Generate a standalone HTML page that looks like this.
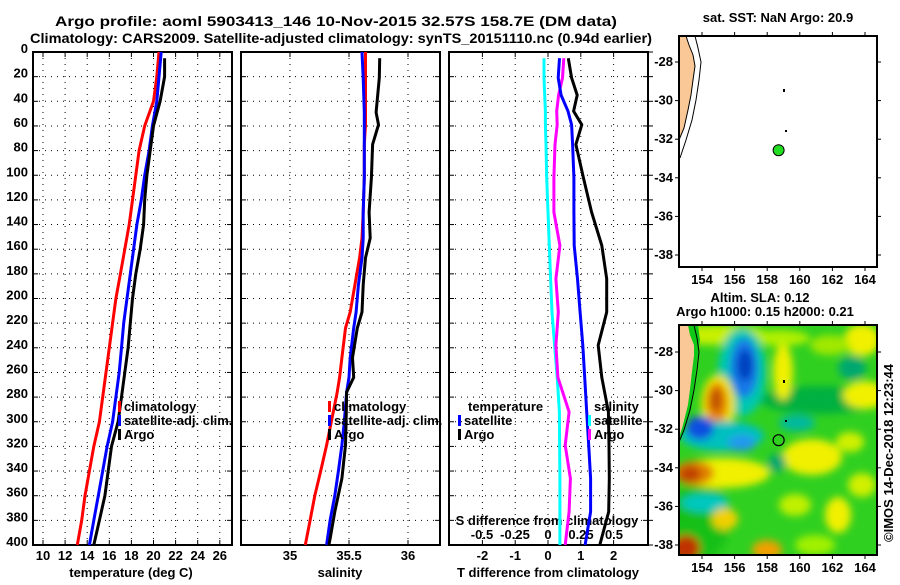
<!DOCTYPE html>
<html><head><meta charset="utf-8"><style>
body{margin:0;background:#fff;}
svg text{font-family:"Liberation Sans",Arial,sans-serif;font-weight:bold;fill:#000;}
</style></head><body>
<svg id="c" width="900" height="580" viewBox="0 0 900 580" xmlns="http://www.w3.org/2000/svg">
<defs>
<filter id="blur" x="-50%" y="-50%" width="200%" height="200%"><feGaussianBlur stdDeviation="4"/></filter>
<clipPath id="mapclip"><rect x="679" y="325" width="198" height="230"/></clipPath>
</defs>
<text x="55" y="26" font-size="14" textLength="562" lengthAdjust="spacingAndGlyphs">Argo profile: aoml 5903413_146 10-Nov-2015 32.57S 158.7E (DM data)</text>
<text x="30" y="43" font-size="14" textLength="622" lengthAdjust="spacingAndGlyphs">Climatology: CARS2009. Satellite-adjusted climatology: synTS_20151110.nc (0.94d earlier)</text>
<g id="g"></g>
</svg>
<script>
// ---- data ----
const tempDepth=[0,20,40,60,80,100,120,140,160,180,200,220,240,260,280,300,320,340,360,380,400];
const tempClim=[20.5,20.3,20.0,19.2,18.7,18.4,18.1,17.8,17.4,17.0,16.6,16.3,16.0,15.7,15.4,15.1,14.6,14.2,13.8,13.5,13.1];
const tempSat=[20.7,20.5,20.3,19.9,19.6,19.2,18.9,18.5,18.2,17.9,17.6,17.3,17.1,16.9,16.6,16.3,15.8,15.4,15.0,14.6,14.2];
const tempArgoDepth=[5,20,40,60,80,100,120,140,160,180,200,220,240,260,280,300,320,340,360,380,400];
const tempArgo=[21.0,21.0,20.6,20.0,19.7,19.4,19.2,19.1,18.8,18.4,18.1,17.9,17.7,17.4,17.1,16.8,16.2,15.9,15.6,15.1,14.6];
const salDepth=[0,21,49,59,75,102,130,151,167,189,211,224,248,264,276,300,319,340,360,380,400];
const salClim=[35.64,35.64,35.64,35.64,35.63,35.63,35.62,35.61,35.59,35.55,35.51,35.47,35.44,35.42,35.40,35.35,35.31,35.26,35.21,35.17,35.13];
const salSat=[35.61,35.62,35.63,35.63,35.63,35.63,35.62,35.62,35.61,35.58,35.56,35.54,35.51,35.50,35.48,35.46,35.44,35.41,35.38,35.34,35.31];
const salArgoDepth=[5,21,49,59,75,102,130,151,167,189,211,224,248,264,276,300,319,346,373,395,400];
const salArgo=[35.76,35.757,35.73,35.75,35.70,35.69,35.67,35.68,35.64,35.62,35.61,35.57,35.53,35.54,35.48,35.475,35.47,35.44,35.38,35.34,35.33];
const diffDepth=[5,21,35,48,59,75,102,130,157,184,211,238,264,292,319,346,373,400];
const dSsat=[-0.03,-0.03,-0.025,-0.02,-0.02,-0.015,-0.01,0.0,0.01,0.02,0.03,0.05,0.07,0.086,0.088,0.09,0.09,0.09];
const dSargo=[0.12,0.11,0.08,0.066,0.07,0.053,0.045,0.045,0.09,0.06,0.078,0.06,0.075,0.16,0.13,0.17,0.16,0.13];
const dTsat=[0.35,0.31,0.40,0.61,0.72,0.75,0.79,0.79,0.80,0.9,0.98,1.06,1.12,1.18,1.24,1.30,1.30,1.13];
const dTargo=[0.62,0.72,0.89,0.78,1.03,0.85,1.08,1.33,1.64,1.79,1.79,1.53,1.64,1.84,1.86,1.87,1.85,1.58];
const depthTicks=[0,20,40,60,80,100,120,140,160,180,200,220,240,260,280,300,320,340,360,380,400];
const tTicks=[10,12,14,16,18,20,22,24,26];
const sTicks=[35,35.5,36];
const dTTicks=[-2,-1,0,1,2];
const dSTicks=[-0.5,-0.25,0,0.25,0.5];
const dSLabels=["-0.5","-0.25","0","0.25","0.5"];
const lonTicks=[154,156,158,160,162,164];
const latTicks=[-28,-30,-32,-34,-36,-38];
const argoLon=158.7, argoLat=-32.57;

const NS='http://www.w3.org/2000/svg';
const G=document.getElementById('g');
function mk(tag,attrs,parent){const e=document.createElementNS(NS,tag);for(const k in attrs)e.setAttribute(k,attrs[k]);(parent||G).appendChild(e);return e;}
const Y=d=>52+d*1.2325;
const xT=v=>43+(v-10)*11.05;
const xS=v=>290+(v-35)*118;
const xDT=v=>548+v*32.8;
const xDS=v=>548+v*132;
const FS=13;

function panel(x0,name){
  const r=mk('rect',{x:x0,y:52,width:199,height:493,fill:'none',stroke:'#000','stroke-width':2});
  
  
  depthTicks.forEach(d=>{
    if(d>0&&d<400){const l=mk('line',{x1:x0,x2:x0+199,y1:Y(d),y2:Y(d),stroke:'#000','stroke-width':1,'stroke-dasharray':'1 5'});
    
    }
    mk('line',{x1:x0,x2:x0+5,y1:Y(d),y2:Y(d),stroke:'#000'});
    mk('line',{x1:x0+194,x2:x0+199,y1:Y(d),y2:Y(d),stroke:'#000'});
  });
}
function vgrid(ticks,fx,x0){ticks.forEach(v=>{const l=mk('line',{x1:fx(v),x2:fx(v),y1:52,y2:545,stroke:'#000','stroke-dasharray':'1 5'});
  
  
  mk('line',{x1:fx(v),x2:fx(v),y1:52,y2:57,stroke:'#000'});mk('line',{x1:fx(v),x2:fx(v),y1:540,y2:545,stroke:'#000'});});}
function line(depths,vals,fx,color,name){
  const pts=vals.map((v,i)=>fx(v).toFixed(1)+','+Y(depths[i]).toFixed(1)).join(' ');
  const p=mk('polyline',{points:pts,fill:'none',stroke:color,'stroke-width':3,'stroke-linejoin':'round'});
  
  
}
function txt(x,y,s,size,anchor,name){const t=mk('text',{x:x,y:y,'font-size':size,'text-anchor':anchor||'start'});t.textContent=s;
  
  return t;}
function legItem(x,y,color,s,name){mk('rect',{x:x,y:y-10,width:3,height:11,fill:color});txt(x+6,y,s,FS,'start',name);}

// panel 1
panel(33,'temperature-panel');vgrid(tTicks,xT);
depthTicks.forEach(d=>txt(28,Y(d)+1,String(d),FS,'end','y-tick-label'));
tTicks.forEach(v=>txt(xT(v),560,String(v),FS,'middle','x-tick-label'));
txt(131,577,'temperature (deg C)',FS,'middle','x-axis-title-temperature');
line(tempDepth,tempClim,xT,'#f00','climatology-temperature-line');
line(tempDepth,tempSat,xT,'#00f','satellite-temperature-line');
line(tempArgoDepth,tempArgo,xT,'#000','argo-temperature-line');
legItem(118,411,'#f00','climatology','legend-climatology');
legItem(118,425,'#00f','satellite-adj. clim.','legend-satellite');
legItem(118,439,'#000','Argo','legend-argo');

// panel 2
panel(241,'salinity-panel');vgrid(sTicks,xS);
sTicks.forEach(v=>txt(xS(v),560,String(v),FS,'middle','x-tick-label'));
txt(340,577,'salinity',FS,'middle','x-axis-title-salinity');
line(salDepth,salClim,xS,'#f00','climatology-salinity-line');
line(salDepth,salSat,xS,'#00f','satellite-salinity-line');
line(salArgoDepth,salArgo,xS,'#000','argo-salinity-line');
legItem(328,411,'#f00','climatology','legend-climatology');
legItem(328,425,'#00f','satellite-adj. clim.','legend-satellite');
legItem(328,439,'#000','Argo','legend-argo');

// panel 3
panel(449,'difference-panel');vgrid(dTTicks,xDT);
depthTicks.forEach(d=>mk('line',{x1:648,x2:653,y1:Y(d),y2:Y(d),stroke:'#000'}));
dTTicks.forEach(v=>txt(xDT(v),560,String(v),FS,'middle','x-tick-label'));
dSTicks.forEach((v,i)=>txt(xDS(v),539,dSLabels[i],FS,'middle','s-tick-label'));
txt(547,525,'S difference from climatology',FS,'middle','s-axis-title');
txt(548,577,'T difference from climatology',FS,'middle','x-axis-title-difference');
line(diffDepth,dSsat,xDS,'#0ff','satellite-salinity-diff-line');
line(diffDepth,dSargo,xDS,'#f0f','argo-salinity-diff-line');
line(diffDepth,dTsat,xDT,'#00f','satellite-temperature-diff-line');
line(diffDepth,dTargo,xDT,'#000','argo-temperature-diff-line');
txt(468,411,'temperature',FS,'start','legend-temperature-header');
legItem(458,425,'#00f','satellite','legend-t-satellite');
legItem(458,439,'#000','Argo','legend-t-argo');
txt(594,411,'salinity',FS,'start','legend-salinity-header');
legItem(588,425,'#0ff','satellite','legend-s-satellite');
legItem(588,439,'#f0f','Argo','legend-s-argo');

// maps
const mx=(lon)=>702+(lon-154)*16.3;
const my=(lat,y28)=>y28+(-28-lat)*19.3;
function mapAxes(y0,y1,y28,name){
  const r=mk('rect',{x:679,y:y0,width:198,height:y1-y0,fill:'none',stroke:'#000','stroke-width':2});
  
  
  lonTicks.forEach(l=>{mk('line',{x1:mx(l),x2:mx(l),y1:y0-4,y2:y0,stroke:'#000'});mk('line',{x1:mx(l),x2:mx(l),y1:y1,y2:y1+4,stroke:'#000'});
    txt(mx(l),y1+17,String(l),FS,'middle','lon-tick-label');});
  latTicks.forEach(l=>{mk('line',{x1:675,x2:679,y1:my(l,y28),y2:my(l,y28),stroke:'#000'});mk('line',{x1:877,x2:881,y1:my(l,y28),y2:my(l,y28),stroke:'#000'});
    txt(673,my(l,y28)+4,String(l),FS,'end','lat-tick-label');});
}
// top map
const land1=mk('polygon',{points:'679,36 686,36 689,45 693,55 695,66 693,80 691,95 688,110 684,128 679,140',fill:'#fac896'});


mk('polyline',{points:'686,36 689,45 693,55 695,66 693,80 691,95 688,110 684,128 679,140',fill:'none',stroke:'#000','stroke-width':1});
mk('polyline',{points:'695,36 698,48 701,62 699,80 696,100 692,120 686,140 680,158',fill:'none',stroke:'#000','stroke-width':1});
mk('rect',{x:783,y:89,width:2,height:3,fill:'#000'});mk('rect',{x:785,y:130,width:2,height:2,fill:'#000'});
mapAxes(36,267,62,'sst-map');
txt(778,22,'sat. SST: NaN Argo: 20.9',FS,'middle','sst-map-title');
const dot=mk('circle',{cx:mx(argoLon),cy:my(argoLat,62),r:5.5,fill:'#2d2',stroke:'#000','stroke-width':1});



// bottom SLA map
const mg=mk('g',{'clip-path':'url(#mapclip)'});


mk('rect',{x:679,y:325,width:198,height:230,fill:'#30d020'},mg);
const bg=mk('g',{filter:'url(#blur)'},mg);
const blobs=[
 [720,335,50,10,'#c8f000'],[780,338,30,8,'#b0f000'],[862,340,18,16,'#f0f000'],[830,345,20,10,'#a0e800'],
 [700,520,30,40,'#18c018'],[820,400,60,14,'#00b040'],[852,368,14,12,'#00a870'],
 [783,372,10,28,'#f0f000'],[865,395,22,14,'#f0f000'],[812,457,30,18,'#f0f000'],[850,442,14,10,'#d0f000'],
 [742,372,24,44,'#00c8b0'],[744,368,14,30,'#1878e8'],[745,365,8,16,'#0040c0'],
 [718,405,17,30,'#f0e800'],[717,403,11,21,'#e88800'],[716,400,6,12,'#c05000'],
 [722,436,42,15,'#00c0c0'],[700,428,14,12,'#1050e0'],[742,443,14,8,'#2098f0'],
 [722,473,48,15,'#f0f000'],[694,473,20,12,'#e08000'],[690,474,11,8,'#c04000'],
 [797,423,18,8,'#00b8a0'],[777,463,9,9,'#00a870'],
 [705,503,24,9,'#00c8c0'],[725,519,13,11,'#f0d000'],[767,550,15,10,'#f0a000'],[838,515,13,18,'#f0f000'],
 [686,548,14,13,'#c03000'],[795,505,16,11,'#c0f000'],[862,485,14,12,'#d0f000'],[815,545,20,10,'#a0f000']];
blobs.forEach(b=>{const e=mk('ellipse',{cx:b[0],cy:b[1],rx:b[2],ry:b[3],fill:b[4]},bg);
  
  });
mk('polygon',{points:'679,325 688,325 690,335 694,345 694,356 692,372 690,390 688,405 683,425 679,437',fill:'#fac896'},mg);
mk('polygon',{points:'688,325 698,325 700,340 697,360 694,385 690,410 684,432 679,440 683,425 688,405 690,390 692,372 694,356 694,345 690,335',fill:'#10c818'},mg);
mk('polyline',{points:'694,325 697,338 699,352 697,370 694,390 690,410 684,430 679,442',fill:'none',stroke:'#000','stroke-width':1},mg);
mk('rect',{x:783,y:380,width:2,height:3,fill:'#000'},mg);mk('rect',{x:785,y:420,width:2,height:2,fill:'#000'},mg);
mapAxes(325,555,352,'sla-map');
txt(760,302,'Altim. SLA: 0.12',FS,'middle','sla-map-title-1');
txt(765,316,'Argo h1000: 0.15 h2000: 0.21',FS,'middle','sla-map-title-2');
const ring=mk('circle',{cx:mx(argoLon),cy:my(argoLat,352),r:5.5,fill:'none',stroke:'#000','stroke-width':1.2});


const cr=txt(0,0,'©IMOS 14-Dec-2018 12:23:44',FS,'middle','copyright-stamp');
cr.setAttribute('font-weight','normal');
cr.setAttribute('transform','translate(893,453) rotate(-90)');
</script>
</body></html>
